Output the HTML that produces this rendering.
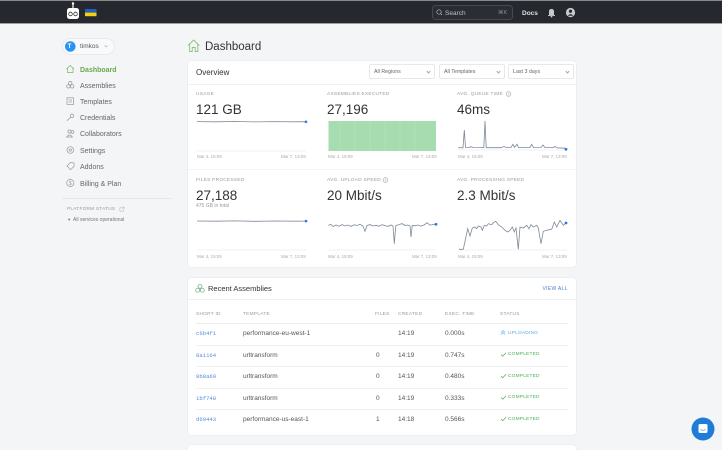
<!DOCTYPE html>
<html><head><meta charset="utf-8">
<style>
*{margin:0;padding:0;box-sizing:border-box}
html,body{width:722px;height:450px;overflow:hidden;background:#f4f5f7;font-family:"Liberation Sans",Arial,sans-serif;position:relative}
.t{position:absolute;white-space:nowrap;line-height:1;margin-top:1.3px}
.card{position:absolute;background:#fff;border:1px solid #eceef1;border-radius:4px}
.lbl{font-size:4.8px;color:#9a9a9a;letter-spacing:0.25px;text-transform:uppercase}
.val{font-size:13.5px;color:#333;font-weight:300}
.dt{font-size:4.4px;color:#aaa}
.nav{font-size:7px;color:#666}
.th{font-size:4.8px;color:#9a9a9a;letter-spacing:0.25px}
.td{font-size:6.5px;color:#555}
.id{font-size:5.6px;color:#5b8bd9;font-family:"Liberation Mono",monospace}
.ok{font-size:4.8px;color:#4caf50;letter-spacing:0.2px}
.dd{position:absolute;top:64px;height:15px;border:1px solid #e6e8eb;border-radius:2px;background:#fff}
.dd span{position:absolute;left:4px;top:5.3px;font-size:5.3px;color:#666;line-height:1}
.dd i{position:absolute;right:4px;top:5px;width:3px;height:3px;border-right:0.6px solid #aaa;border-bottom:0.6px solid #aaa;transform:rotate(45deg)}
.sep{position:absolute;height:1px;background:#f0f1f3}
</style></head><body>

<!-- top nav -->
<div style="position:absolute;left:0;top:0;width:722px;height:24px;background:#26282f;border-top:1px solid #8a8a8a;border-bottom:1px solid #9c9ea3"></div>
<svg style="position:absolute;left:0;top:0" width="722" height="24">
  <line x1="73" y1="3" x2="73" y2="8" stroke="#fff" stroke-width="1.2"/>
  <circle cx="73" cy="3.5" r="1.2" fill="#fff"/>
  <rect x="67" y="8" width="12" height="11" rx="2.5" fill="#fff"/>
  <circle cx="70.5" cy="14" r="1.8" fill="none" stroke="#333" stroke-width="0.8"/>
  <circle cx="75.5" cy="14" r="1.8" fill="none" stroke="#333" stroke-width="0.8"/>
  <rect x="85" y="9" width="11.5" height="3.6" fill="#1f5fc4"/>
  <rect x="85" y="12.6" width="11.5" height="3.6" fill="#f4d10c"/>
  <rect x="432.5" y="5.5" width="80" height="14" rx="3" fill="#2b2d34" stroke="#50525a" stroke-width="0.8"/>
  <circle cx="439" cy="12" r="2.2" fill="none" stroke="#bbb" stroke-width="0.7"/>
  <line x1="440.6" y1="13.6" x2="442" y2="15" stroke="#bbb" stroke-width="0.7"/>
  <path d="M549 15 L549 11.5 Q549 9 551.5 9 Q554 9 554 11.5 L554 15 Z" fill="#c9cace"/>
  <rect x="548" y="15" width="7" height="0.9" fill="#c9cace"/>
  <circle cx="551.5" cy="16.6" r="0.9" fill="#c9cace"/>
  <circle cx="570.5" cy="12.5" r="4.6" fill="#c9cace"/>
  <circle cx="570.5" cy="11.2" r="1.6" fill="#26282f"/>
  <path d="M567.8 15.8 Q570.5 12.5 573.2 15.8" fill="#26282f"/>
</svg>
<div class="t" style="left:445px;top:9.3px;font-size:6.5px;color:#c2c3c7">Search</div>
<div class="t" style="left:498px;top:9.8px;font-size:5.5px;color:#8a8b90">⌘K</div>
<div class="t" style="left:522px;top:9.3px;font-size:6.5px;color:#e0e0e0;font-weight:bold">Docs</div>

<!-- sidebar -->
<div style="position:absolute;left:62px;top:38px;width:53px;height:17px;border-radius:9px;background:#f9fafb;border:1px solid #e8eaed"></div>
<svg style="position:absolute;left:0;top:0" width="190" height="230">
  <circle cx="70.3" cy="46.5" r="5.3" fill="#2a94f2"/>
  <path d="M104.5 45.5 L106 47 L107.5 45.5" fill="none" stroke="#aaa" stroke-width="0.6"/>
  <g fill="none" stroke-width="0.7">
    <path d="M66.5 69 L70.3 65.5 L74 69 M67.5 68.2 V72.5 H73 V68.2" stroke="#7bb36a"/>
    <g stroke="#999">
      <circle cx="70.3" cy="83.2" r="1.7"/><circle cx="68.4" cy="86.4" r="1.7"/><circle cx="72.2" cy="86.4" r="1.7"/>
      <rect x="67" y="97.8" width="6.6" height="6.6"/><line x1="68.6" y1="100" x2="72" y2="100"/><line x1="68.6" y1="102" x2="72" y2="102"/>
      <circle cx="72" cy="115.8" r="1.8"/><line x1="70.8" y1="117" x2="67" y2="120.7"/>
      <circle cx="69.5" cy="131.5" r="1.6"/><path d="M66.6 137 Q69.5 133 72.4 137 Z"/><circle cx="72.5" cy="132" r="1.4"/>
      <circle cx="70.3" cy="150" r="3.3"/><circle cx="70.3" cy="150" r="1.2"/>
      <path d="M67 166 L70.5 162.5 L74 163 L74 166.5 L70.5 169.8 Z"/>
      <circle cx="70.3" cy="183" r="3.6"/>
    </g>
  </g>
  <text x="70.3" y="185" font-size="5" fill="#999" text-anchor="middle" font-family="Liberation Sans">$</text>
  <rect x="62" y="198" width="110" height="0.8" fill="#e3e5e8"/>
  <path d="M121.5 207.6 h-1.6 v3.6 h3.6 v-1.6 M122.1 207.1 h2 v2 M124.1 207.1 l-2.2 2.2" fill="none" stroke="#aaa" stroke-width="0.45"/>
  <circle cx="69.2" cy="219.5" r="1" fill="#4caf50"/>
</svg>
<div class="t" style="left:67.8px;top:43.2px;font-size:6px;color:#fff;font-weight:bold">T</div>
<div class="t" style="left:80px;top:43.2px;font-size:6.5px;color:#555">timkos</div>
<div class="t nav" style="left:80px;top:65.5px;color:#6aa84f;font-weight:bold">Dashboard</div>
<div class="t nav" style="left:80px;top:81.5px">Assemblies</div>
<div class="t nav" style="left:80px;top:97.5px">Templates</div>
<div class="t nav" style="left:80px;top:114px">Credentials</div>
<div class="t nav" style="left:80px;top:130px">Collaborators</div>
<div class="t nav" style="left:80px;top:146.5px">Settings</div>
<div class="t nav" style="left:80px;top:162.5px">Addons</div>
<div class="t nav" style="left:80px;top:179.5px">Billing &amp; Plan</div>
<div class="t" style="left:67px;top:206.6px;font-size:4.8px;color:#999;letter-spacing:0.2px">PLATFORM STATUS</div>
<div class="t" style="left:73px;top:217px;font-size:5px;color:#777">All services operational</div>

<!-- page header -->
<svg style="position:absolute;left:186px;top:38px" width="16" height="16">
  <path d="M2 7.5 L7.7 2 L13.4 7.5 M3.6 6.2 V13.5 H6.2 V9.5 H9.2 V13.5 H11.8 V6.2" fill="none" stroke="#8cc27a" stroke-width="0.9"/>
</svg>
<div class="t" style="left:205px;top:40.5px;font-size:11.5px;color:#333">Dashboard</div>

<!-- overview card -->
<div class="card" style="left:187px;top:60px;width:390px;height:208px"></div>
<div class="sep" style="left:188px;top:83.5px;width:388px;background:#eef0f2"></div>
<div class="sep" style="left:188px;top:169px;width:388px;background:#f3f4f6"></div>
<div class="t" style="left:196px;top:68px;font-size:8px;color:#333">Overview</div>
<div class="dd" style="left:369px;width:66px"><span>All Regions</span><i></i></div>
<div class="dd" style="left:439px;width:66px"><span>All Templates</span><i></i></div>
<div class="dd" style="left:508px;width:66px"><span>Last 3 days</span><i></i></div>

<div class="t lbl" style="left:196px;top:91.6px">Usage</div>
<div class="t lbl" style="left:327px;top:91.6px">Assemblies executed</div>
<div class="t lbl" style="left:457px;top:91.6px">Avg. queue time</div>
<div class="t val" style="left:196px;top:101.3px">121 GB</div>
<div class="t val" style="left:327px;top:101.3px">27,196</div>
<div class="t val" style="left:457px;top:101.3px">46ms</div>

<div class="t lbl" style="left:196px;top:177.6px">Files processed</div>
<div class="t lbl" style="left:327px;top:177.6px">Avg. upload speed</div>
<div class="t lbl" style="left:457px;top:177.6px">Avg. processing speed</div>
<div class="t val" style="left:196px;top:187.3px">27,188</div>
<div class="t val" style="left:327px;top:187.3px">20 Mbit/s</div>
<div class="t val" style="left:457px;top:187.3px">2.3 Mbit/s</div>
<div class="t" style="left:196px;top:203px;font-size:5px;color:#999">475 GB in total</div>

<div class="t dt" style="left:197px;top:153.8px">Mar 4, 15:09</div>
<div class="t dt" style="left:281px;top:153.8px">Mar 7, 13:09</div>
<div class="t dt" style="left:328px;top:153.8px">Mar 4, 15:09</div>
<div class="t dt" style="left:412px;top:153.8px">Mar 7, 13:09</div>
<div class="t dt" style="left:458px;top:153.8px">Mar 4, 15:09</div>
<div class="t dt" style="left:542px;top:153.8px">Mar 7, 13:09</div>
<div class="t dt" style="left:197px;top:253.3px">Mar 4, 15:09</div>
<div class="t dt" style="left:281px;top:253.3px">Mar 7, 13:09</div>
<div class="t dt" style="left:328px;top:253.3px">Mar 4, 15:09</div>
<div class="t dt" style="left:412px;top:253.3px">Mar 7, 13:09</div>
<div class="t dt" style="left:458px;top:253.3px">Mar 4, 15:09</div>
<div class="t dt" style="left:542px;top:253.3px">Mar 7, 13:09</div>

<svg style="position:absolute;left:0;top:0" width="722" height="270">
  <g fill="none" stroke="#b2b7bd" stroke-width="0.8">
    <circle cx="508.5" cy="94" r="2.3"/>
    <circle cx="385.5" cy="180" r="2.3"/>
  </g>
  <text x="508.5" y="95.6" font-size="3.5" fill="#b2b7bd" text-anchor="middle" font-family="Liberation Sans" font-weight="bold">?</text>
  <text x="385.5" y="181.6" font-size="3.5" fill="#b2b7bd" text-anchor="middle" font-family="Liberation Sans" font-weight="bold">?</text>
  <!-- baselines -->
  <g stroke="#eceef0" stroke-width="0.8">
    <line x1="197" y1="151" x2="306" y2="151"/>
    <line x1="458" y1="150" x2="567" y2="150"/>
    <line x1="197" y1="250" x2="306" y2="250"/>
    <line x1="328" y1="250" x2="436" y2="250"/>
    <line x1="458" y1="250" x2="567" y2="250"/>
  </g>
  <!-- usage -->
  <polyline fill="none" stroke="#7d8a98" stroke-width="0.8" points="197,121.6 215,121.8 235,121.5 255,121.9 275,121.6 295,121.8 306,121.7"/>
  <circle cx="306" cy="121.8" r="1.3" fill="#2a78e4"/>
  <!-- assemblies -->
  <rect x="328.5" y="121" width="107.5" height="30" fill="#a7dcb1"/>
  <g stroke="#b6e3be" stroke-width="0.4">
    <line x1="340" y1="121" x2="340" y2="151"/><line x1="355" y1="121" x2="355" y2="151"/>
    <line x1="370" y1="121" x2="370" y2="151"/><line x1="385" y1="121" x2="385" y2="151"/>
    <line x1="400" y1="121" x2="400" y2="151"/><line x1="415" y1="121" x2="415" y2="151"/>
  </g>
  <!-- queue -->
  <polyline fill="none" stroke="#7d8a98" stroke-width="0.8" points="458.3,147.7 463,147.8 464.3,130 465.5,147.5 469,147.6 471,146.6 473,147.5 483.8,147.6 485,121 486.2,147.7 501,147.7 504,146.5 507,147.6 511,147.4 513,144.3 514.5,147.4 517,144.3 518.5,147.5 530,147.5 531.7,144.3 533.5,147.6 541,147.5 543,145 545,147.6 553,147.6 555,146.5 557,147.8 565,148.2 566,149.3"/>
  <circle cx="566" cy="149.3" r="1.4" fill="#2a78e4"/>
  <!-- files -->
  <polyline fill="none" stroke="#7d8a98" stroke-width="0.8" points="197,221 215,221.2 235,220.9 255,221.3 275,221 295,221.2 306,221.1"/>
  <circle cx="306" cy="221.1" r="1.3" fill="#2a78e4"/>
  <!-- upload -->
  <polyline fill="none" stroke="#7d8a98" stroke-width="0.8" points="328.3,225.3 331,224.5 333,226.5 336,225 339,226.2 342,224.6 345,226 348,225 351,226.4 354,224.8 357,225.5 360,224.3 363,226 365,231.3 367,225.5 370,224.6 373,226 376,225.2 379,226.3 382,224.7 385,225.6 388,226.4 391,225 393,226 394.3,243.7 395.8,225.5 399,224.6 402,223.6 405,225.4 408,225 410,226 411,237 412.2,225.5 415,225.8 418,225 421,226.2 424,225 427,222.8 430,225.2 433,224.4 436,224.3"/>
  <circle cx="436" cy="224.3" r="1.4" fill="#2a78e4"/>
  <!-- processing -->
  <polyline fill="none" stroke="#7d8a98" stroke-width="0.8" points="459,249.3 463.3,249.3 467.7,228.7 470,236 472.3,228 475,227 476.7,228.7 478.3,226 481,227 482.3,230.3 484.3,225.3 486.7,226 488.3,223.7 491.7,224.7 493.3,222.7 495.7,221.3 498.3,224.7 501.7,227 505,230.3 507.7,232 510,230.3 512.3,227 514.3,232 516,228 518.3,249.3 520,227 523.3,228 526.7,225.3 529,228.7 531,224.7 533.3,227 536.7,225.3 538.3,228 541,243.7 543.3,231.3 546.7,230.3 551.7,229.3 554.3,222 556.7,227 560,220.3 563.3,225.3 566,223"/>
  <circle cx="566" cy="223" r="1.4" fill="#2a78e4"/>
</svg>

<!-- recent assemblies card -->
<div class="card" style="left:187px;top:277px;width:390px;height:159px"></div>
<div class="sep" style="left:188px;top:299px;width:388px;background:#eef0f2"></div>
<svg style="position:absolute;left:194px;top:283px" width="12" height="12">
  <g fill="none" stroke="#5fae7a" stroke-width="0.7">
    <circle cx="6" cy="3.3" r="2"/><circle cx="3.7" cy="7.2" r="2"/><circle cx="8.3" cy="7.2" r="2"/>
  </g>
</svg>
<div class="t" style="left:208px;top:284.2px;font-size:7.5px;color:#333">Recent Assemblies</div>
<div class="t" style="left:542.5px;top:285.6px;font-size:5px;color:#4a7fd0;letter-spacing:0.3px">VIEW ALL</div>

<div class="t th" style="left:196px;top:312px">SHORT ID</div>
<div class="t th" style="left:243px;top:312px">TEMPLATE</div>
<div class="t th" style="left:375px;top:312px">FILES</div>
<div class="t th" style="left:398px;top:312px">CREATED</div>
<div class="t th" style="left:445px;top:312px">EXEC. TIME</div>
<div class="t th" style="left:500px;top:312px">STATUS</div>
<div class="sep" style="left:196px;top:323px;width:372px;background:#eceef0"></div>
<div class="sep" style="left:196px;top:344.5px;width:372px"></div>
<div class="sep" style="left:196px;top:366px;width:372px"></div>
<div class="sep" style="left:196px;top:387.5px;width:372px"></div>
<div class="sep" style="left:196px;top:409px;width:372px"></div>

<div class="t id" style="left:196px;top:330.2px">c6b4f1</div>
<div class="t td" style="left:243px;top:329.8px">performance-eu-west-1</div>
<div class="t td" style="left:398px;top:329.8px">14:19</div>
<div class="t td" style="left:445px;top:329.8px">0.000s</div>
<div class="t" style="left:508px;top:330.7px;font-size:4.8px;color:#5aa9ec;letter-spacing:0.2px">UPLOADING</div>

<div class="t id" style="left:196px;top:351.7px">8a1164</div>
<div class="t td" style="left:243px;top:351.3px">urltransform</div>
<div class="t td" style="left:376px;top:351.3px">0</div>
<div class="t td" style="left:398px;top:351.3px">14:19</div>
<div class="t td" style="left:445px;top:351.3px">0.747s</div>
<div class="t ok" style="left:508px;top:352.2px">COMPLETED</div>

<div class="t id" style="left:196px;top:373.2px">8b8a69</div>
<div class="t td" style="left:243px;top:372.8px">urltransform</div>
<div class="t td" style="left:376px;top:372.8px">0</div>
<div class="t td" style="left:398px;top:372.8px">14:19</div>
<div class="t td" style="left:445px;top:372.8px">0.480s</div>
<div class="t ok" style="left:508px;top:373.7px">COMPLETED</div>

<div class="t id" style="left:196px;top:394.7px">1bf748</div>
<div class="t td" style="left:243px;top:394.3px">urltransform</div>
<div class="t td" style="left:376px;top:394.3px">0</div>
<div class="t td" style="left:398px;top:394.3px">14:19</div>
<div class="t td" style="left:445px;top:394.3px">0.333s</div>
<div class="t ok" style="left:508px;top:395.2px">COMPLETED</div>

<div class="t id" style="left:196px;top:416.2px">d69443</div>
<div class="t td" style="left:243px;top:415.8px">performance-us-east-1</div>
<div class="t td" style="left:376px;top:415.8px">1</div>
<div class="t td" style="left:398px;top:415.8px">14:18</div>
<div class="t td" style="left:445px;top:415.8px">0.566s</div>
<div class="t ok" style="left:508px;top:416.7px">COMPLETED</div>

<svg style="position:absolute;left:0;top:320px" width="722" height="130">
  <g fill="none" stroke="#5aa9ec" stroke-width="0.6">
    <path d="M501 12.5 L503 10.5 L505 12.5 M501 14.5 L503 12.5 L505 14.5"/>
  </g>
  <g fill="none" stroke="#4caf50" stroke-width="0.7">
    <path d="M501 34.5 L502.8 36.2 L506 32.8"/>
    <path d="M501 56 L502.8 57.7 L506 54.3"/>
    <path d="M501 77.5 L502.8 79.2 L506 75.8"/>
    <path d="M501 99 L502.8 100.7 L506 97.3"/>
  </g>
  <circle cx="703" cy="109" r="11.5" fill="#1f7dd8"/>
  <rect x="698.5" y="104" width="9" height="9" rx="1.5" fill="#fff"/>
  <path d="M700.5 109.5 Q703 111 705.5 109.5" fill="none" stroke="#1f7dd8" stroke-width="0.6"/>
</svg>

<!-- next card -->
<div class="card" style="left:187px;top:444px;width:390px;height:20px"></div>

</body></html>
